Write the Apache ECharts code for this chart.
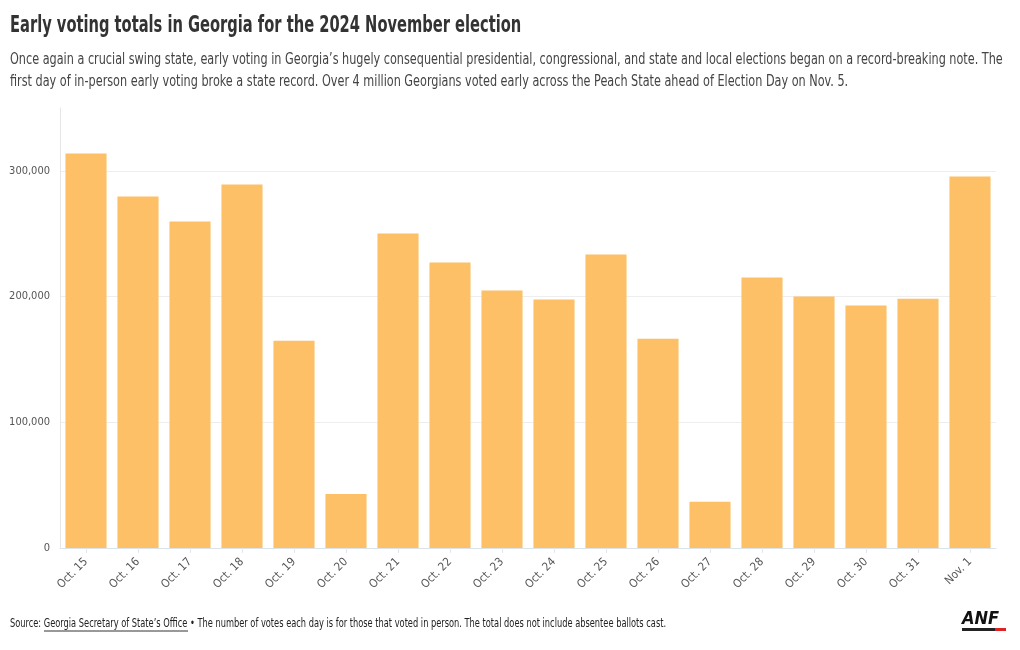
<!DOCTYPE html>
<html>
<head>
<meta charset="utf-8">
<script src="https://cdn.jsdelivr.net/npm/echarts@6/dist/echarts.min.js"></script>
<style>
html,body{margin:0;padding:0;background:#fff;}
#chart{width:1020px;height:650px;}
</style>
</head>
<body>
<div id="chart"></div>
<script>
const categories = ["Oct. 15","Oct. 16","Oct. 17","Oct. 18","Oct. 19","Oct. 20","Oct. 21","Oct. 22","Oct. 23","Oct. 24","Oct. 25","Oct. 26","Oct. 27","Oct. 28","Oct. 29","Oct. 30","Oct. 31","Nov. 1"];
const votes = [313900, 279700, 259800, 289200, 164900, 43000, 250200, 227100, 204800, 197600, 233500, 166500, 36700, 215100, 200000, 192800, 198200, 295600];
const yTicks = [0, 100000, 200000, 300000];

const FONT = '"DejaVu Sans Condensed","DejaVu Sans",sans-serif';
const chart = echarts.init(document.getElementById('chart'));
chart.setOption({
  animation: false,
  backgroundColor: '#fff',
  textStyle: { fontFamily: FONT },
  grid: { left: 60, right: 24, top: 108, bottom: 102, containLabel: false },
  xAxis: {
    type: 'category',
    data: categories,
    axisLine: { lineStyle: { color: '#dbe3ec' } },
    axisTick: { show: true, alignWithLabel: true, length: 5, lineStyle: { color: '#e3e8ee' } },
    axisLabel: { rotate: 45, color: '#555', fontSize: 11.5, fontFamily: FONT, margin: 12, interval: 0 }
  },
  yAxis: {
    type: 'value',
    min: 0, max: 350000, interval: 100000,
    axisLine: { show: true, lineStyle: { color: '#e6e6e6' } },
    axisTick: { show: false },
    axisLabel: {
      color: '#555', fontSize: 11, fontFamily: FONT, margin: 10, showMaxLabel: false,
      formatter: v => yTicks.indexOf(v) >= 0 ? v.toLocaleString('en-US') : ''
    },
    splitLine: { show: true, showMaxLine: false, lineStyle: { color: '#eeeeee' } }
  },
  series: [{
    type: 'bar',
    data: votes,
    barCategoryGap: '21%',
    itemStyle: { color: '#fdc066' }
  }],
  graphic: [{
    type: 'text', x: 10, y: 15, scaleX: 0.709,
    style: {
      text: 'Early voting totals in Georgia for the 2024 November election',
      fontFamily: FONT, fontSize: 23, fontWeight: 'bold', fill: '#333'
    }
  }, {
    type: 'text', x: 10, y: 49, scaleX: 0.758,
    style: {
      text: "Once again a crucial swing state, early voting in Georgia\u2019s hugely consequential presidential, congressional, and state and local elections began on a record-breaking note. The\nfirst day of in-person early voting broke a state record. Over 4 million Georgians voted early across the Peach State ahead of Election Day on Nov. 5.",
      fontFamily: FONT, fontSize: 16.5, fill: '#444', lineHeight: 22
    }
  }, {
    type: 'text', x: 10, y: 617, scaleX: 0.735,
    style: {
      text: 'Source: Georgia Secretary of State\u2019s Office \u2022 The number of votes each day is for those that voted in person. The total does not include absentee ballots cast.',
      fontFamily: FONT, fontSize: 12.5, fill: '#222'
    }
  }, {
    type: 'line', shape: { x1: 44, y1: 631, x2: 188, y2: 631 },
    style: { stroke: '#333', lineWidth: 1 }
  }, {
    type: 'text', x: 962, y: 610, scaleX: 0.9,
    style: { text: 'ANF', fontFamily: '"DejaVu Sans"', fontSize: 18, fontWeight: 'bold', fontStyle: 'italic', fill: '#111' }
  }, {
    type: 'rect', shape: { x: 962, y: 628, width: 44, height: 3 },
    style: { fill: '#222' }
  }, {
    type: 'rect', shape: { x: 995, y: 628, width: 11, height: 3 },
    style: { fill: '#d22' }
  }]
});
</script>
</body>
</html>
